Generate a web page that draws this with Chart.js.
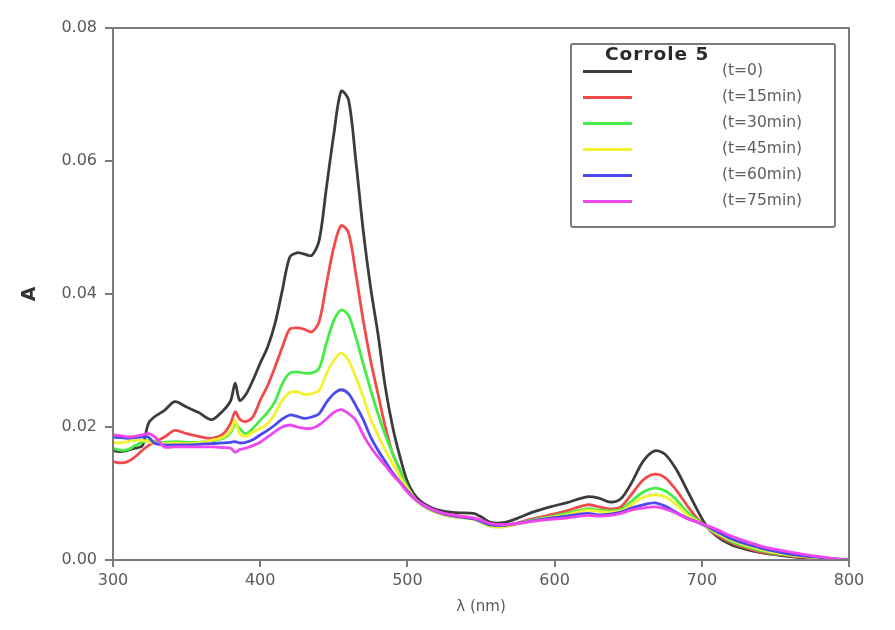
<!DOCTYPE html>
<html>
<head>
<meta charset="utf-8">
<script src="https://cdn.jsdelivr.net/npm/chart.js@4.4.1/dist/chart.umd.min.js"></script>
<style>
  html, body { margin: 0; padding: 0; background: #fff; }
  #wrap { position: relative; width: 895px; height: 630px; }
  #legend { position: absolute; left: 570px; top: 43px; width: 262px; height: 181px;
            border: 2px solid #7a7a7a; border-radius: 3px; background: #fff; }
  #legend .ttl { position: absolute; left: 33px; top: -2px; font: bold 18.5px "DejaVu Sans", sans-serif;
                 color: #2a2a2a; letter-spacing: 1px; }
  #legend .row { position: absolute; left: 0; width: 262px; height: 20px; }
  #legend .ln { position: absolute; left: 11px; top: 9px; width: 49px; height: 3px; }
  #legend .lb { position: absolute; left: 150px; top: 0px; font: 15.5px "DejaVu Sans", sans-serif; color: #5e5e5e; white-space: nowrap; }
</style>
</head>
<body>
<div id="wrap">
  <canvas id="c" width="895" height="630"></canvas>
  <div id="legend"></div>
</div>
<script>
const wavelengths = [300,305,310,315,320,324,328,335,342,350,358,367,375,380,383,386,390,395,400,405,410,415,420,425,430,435,440,445,450,455,460,465,470,475,480,485,490,495,500,506,515,525,535,545,550,556,565,575,585,597,608,622,630,638,645,652,660,668,675,683,690,697,703,710,720,730,740,750,760,770,780,790,800];

const t0 = [0.0165,0.0163,0.0165,0.0168,0.0172,0.0205,0.0215,0.0225,0.0238,0.0230,0.0222,0.0211,0.0225,0.0240,0.0266,0.0240,0.0248,0.0270,0.0296,0.0320,0.0355,0.0405,0.0455,0.0462,0.0460,0.0458,0.0480,0.0560,0.0640,0.0705,0.0692,0.0600,0.0495,0.0410,0.0340,0.0260,0.0200,0.0155,0.0118,0.0095,0.0080,0.0073,0.0071,0.0070,0.0065,0.0057,0.0056,0.0063,0.0072,0.0080,0.0086,0.0095,0.0093,0.0087,0.0092,0.0115,0.0148,0.0164,0.0159,0.0135,0.0105,0.0075,0.0052,0.0036,0.0023,0.0016,0.0011,0.0008,0.0005,0.0003,0.0002,0.0001,0.0000];

const t15 = [0.0148,0.0146,0.0148,0.0155,0.0165,0.0172,0.0177,0.0185,0.0195,0.0190,0.0186,0.0183,0.0190,0.0206,0.0223,0.0212,0.0208,0.0215,0.0240,0.0262,0.0290,0.0320,0.0347,0.0349,0.0347,0.0343,0.0358,0.0415,0.0470,0.0503,0.0492,0.0430,0.0360,0.0300,0.0250,0.0200,0.0160,0.0135,0.0110,0.0090,0.0076,0.0069,0.0066,0.0063,0.0058,0.0052,0.0051,0.0056,0.0062,0.0068,0.0074,0.0083,0.0080,0.0077,0.0080,0.0098,0.0120,0.0129,0.0124,0.0104,0.0082,0.0062,0.0050,0.0038,0.0026,0.0018,0.0012,0.0009,0.0006,0.0004,0.0002,0.0001,0.0000];

const t30 = [0.0168,0.0165,0.0166,0.0172,0.0177,0.0180,0.0178,0.0177,0.0178,0.0177,0.0177,0.0179,0.0183,0.0192,0.0205,0.0198,0.0190,0.0198,0.0210,0.0222,0.0238,0.0265,0.0281,0.0283,0.0281,0.0281,0.0288,0.0326,0.0360,0.0376,0.0368,0.0335,0.0295,0.0256,0.0220,0.0188,0.0160,0.0135,0.0110,0.0090,0.0076,0.0068,0.0064,0.0062,0.0057,0.0051,0.0050,0.0055,0.0060,0.0065,0.0070,0.0077,0.0075,0.0074,0.0076,0.0088,0.0102,0.0108,0.0104,0.0090,0.0072,0.0060,0.0050,0.0040,0.0028,0.0020,0.0014,0.0010,0.0007,0.0005,0.0003,0.0001,0.0000];

const t45 = [0.0177,0.0176,0.0178,0.0180,0.0180,0.0178,0.0176,0.0175,0.0176,0.0175,0.0176,0.0180,0.0185,0.0195,0.0210,0.0190,0.0186,0.0192,0.0198,0.0205,0.0220,0.0240,0.0252,0.0253,0.0249,0.0250,0.0255,0.0280,0.0300,0.0311,0.0300,0.0275,0.0245,0.0212,0.0188,0.0165,0.0145,0.0125,0.0108,0.0090,0.0076,0.0068,0.0064,0.0061,0.0057,0.0051,0.0050,0.0054,0.0059,0.0064,0.0068,0.0075,0.0073,0.0072,0.0074,0.0083,0.0094,0.0098,0.0095,0.0083,0.0068,0.0058,0.0050,0.0041,0.0030,0.0022,0.0016,0.0011,0.0008,0.0005,0.0003,0.0001,0.0000];

const t60 = [0.0185,0.0184,0.0183,0.0184,0.0185,0.0185,0.0176,0.0173,0.0173,0.0173,0.0174,0.0175,0.0176,0.0177,0.0178,0.0176,0.0177,0.0181,0.0188,0.0195,0.0203,0.0212,0.0218,0.0216,0.0213,0.0215,0.0220,0.0237,0.0250,0.0256,0.0250,0.0232,0.0211,0.0185,0.0165,0.0148,0.0131,0.0117,0.0104,0.0090,0.0077,0.0069,0.0065,0.0062,0.0058,0.0053,0.0052,0.0055,0.0059,0.0063,0.0066,0.0070,0.0068,0.0069,0.0072,0.0078,0.0083,0.0086,0.0081,0.0071,0.0063,0.0057,0.0051,0.0043,0.0032,0.0024,0.0018,0.0013,0.0009,0.0006,0.0004,0.0002,0.0000];

const t75 = [0.0188,0.0187,0.0185,0.0186,0.0188,0.0190,0.0186,0.0170,0.0170,0.0170,0.0170,0.0170,0.0169,0.0168,0.0162,0.0166,0.0168,0.0172,0.0177,0.0185,0.0193,0.0200,0.0203,0.0200,0.0198,0.0198,0.0203,0.0212,0.0222,0.0226,0.0220,0.0210,0.0188,0.0170,0.0155,0.0142,0.0128,0.0116,0.0102,0.0090,0.0078,0.0070,0.0066,0.0063,0.0060,0.0055,0.0053,0.0055,0.0058,0.0061,0.0063,0.0067,0.0066,0.0067,0.0070,0.0075,0.0078,0.0080,0.0077,0.0070,0.0062,0.0057,0.0052,0.0046,0.0036,0.0028,0.0021,0.0016,0.0012,0.0008,0.0005,0.0002,0.0000];

const seriesLabels = ['(t=0)','(t=15min)','(t=30min)','(t=45min)','(t=60min)','(t=75min)'];
const seriesColors = ['#3c3c3c','#f04a4a','#46ec46','#f2f230','#4a4aee','#f046f0'];
const seriesValues = [t0, t15, t30, t45, t60, t75];
const legendTitle = 'Corrole 5';
const yTicks = [0, 0.02, 0.04, 0.06, 0.08];
const xTicks = [300, 400, 500, 600, 700, 800];

const datasets = seriesValues.map((vals, i) => ({
  label: seriesLabels[i],
  data: wavelengths.map((w, j) => ({x: w, y: vals[j]})),
  borderColor: seriesColors[i],
  backgroundColor: seriesColors[i],
  borderWidth: 2.8,
  pointRadius: 0,
  tension: 0.3,
  fill: false
})).reverse();

const frame = {
  id: 'frame',
  afterDatasetsDraw(chart) {
    const a = chart.chartArea, ctx = chart.ctx;
    ctx.save();
    ctx.strokeStyle = '#7a7a7a';
    ctx.lineWidth = 2;
    ctx.strokeRect(a.left, a.top, a.right - a.left, a.bottom - a.top);
    ctx.restore();
  }
};

const tickFont = {family: '"DejaVu Sans", sans-serif', size: 16};
new Chart(document.getElementById('c'), {
  type: 'line',
  data: {datasets},
  plugins: [frame],
  options: {
    responsive: false,
    animation: false,
    layout: {padding: {top: 28, right: 46, left: 0, bottom: 0}},
    plugins: {legend: {display: false}, tooltip: {enabled: false}},
    scales: {
      x: {
        type: 'linear', min: 300, max: 800,
        afterBuildTicks: s => { s.ticks = xTicks.map(v => ({value: v})); },
        afterFit: s => { s.height = 70; },
        grid: {display: true, drawOnChartArea: false, color: '#7a7a7a', lineWidth: 2, tickLength: 7},
        border: {color: '#7a7a7a', width: 2},
        ticks: {color: '#5a5a5a', font: tickFont, padding: 4, maxRotation: 0},
        title: {display: true, text: 'λ (nm)', color: '#5a5a5a', font: {family: '"DejaVu Sans", sans-serif', size: 15}, padding: {top: 0, bottom: 14}}
      },
      y: {
        type: 'linear', min: 0, max: 0.08,
        afterBuildTicks: s => { s.ticks = yTicks.map(v => ({value: v})); },
        afterFit: s => { s.width = 113; },
        grid: {display: true, drawOnChartArea: false, color: '#7a7a7a', lineWidth: 2, tickLength: 8},
        border: {color: '#7a7a7a', width: 2},
        ticks: {color: '#5a5a5a', font: tickFont, padding: 8, callback: v => v.toFixed(2)},
        title: {display: true, text: 'A', color: '#333', font: {family: '"DejaVu Sans", sans-serif', size: 19, weight: 'bold'}, padding: {top: 19, bottom: 0}}
      }
    }
  }
});

// HTML legend
const lg = document.getElementById('legend');
const ttl = document.createElement('div');
ttl.className = 'ttl';
ttl.textContent = legendTitle;
lg.appendChild(ttl);
seriesLabels.forEach((lab, i) => {
  const row = document.createElement('div');
  row.className = 'row';
  row.style.top = (16 + i * 26) + 'px';
  const ln = document.createElement('div');
  ln.className = 'ln';
  ln.style.background = seriesColors[i];
  const lb = document.createElement('div');
  lb.className = 'lb';
  lb.textContent = lab;
  row.appendChild(ln);
  row.appendChild(lb);
  lg.appendChild(row);
});
</script>
</body>
</html>
